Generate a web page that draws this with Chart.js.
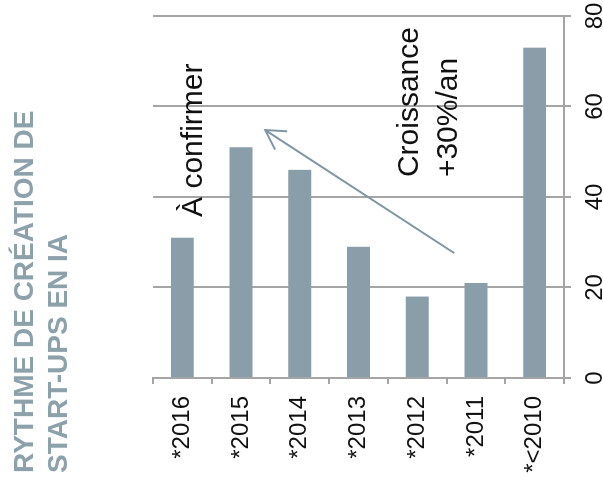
<!DOCTYPE html>
<html>
<head>
<meta charset="utf-8">
<script src="https://cdn.jsdelivr.net/npm/chart.js@4"></script>
<style>
  html, body { margin: 0; padding: 0; background: #fff; overflow: hidden; }
  body { width: 603px; height: 496px; position: relative; }
  /* the chart is laid out as horizontal bars, then turned a quarter turn */
  #wrap {
    position: absolute; left: 0; top: 0;
    width: 496px; height: 603px;
    transform-origin: 0 0;
    transform: translate(0, 496px) rotate(-90deg);
  }
</style>
</head>
<body>
<div id="wrap"><canvas id="rythmeChart" width="496" height="603"></canvas></div>
<script>
const years = ['*2016', '*2015', '*2014', '*2013', '*2012', '*2011', '*<2010'];
const startups = [31, 51, 46, 29, 18, 21, 73];
const valueTicks = [0, 20, 40, 60, 80];
const titleLines = ['RYTHME DE CRÉATION DE', 'START-UPS EN IA'];

const FONT = '"Liberation Sans", Arial, sans-serif';
const BAR = '#899ea8';
const GRID = '#a5a5a5';

// title, trend arrow and the two notes
const notesPlugin = {
    id: 'notes',
    afterDraw(chart) {
        const ctx = chart.ctx;
        const x = chart.scales.x;
        const y = chart.scales.y;
        ctx.save();

        ctx.fillStyle = '#8da1ab';
        ctx.font = 'bold 28px ' + FONT;
        ctx.textBaseline = 'alphabetic';
        ctx.textAlign = 'left';
        ctx.fillText(titleLines[0], 23, 33);
        ctx.fillText(titleLines[1], 23, 67);

        // arrow pointing back toward the recent years
        const x0 = x.getPixelForValue(27.6), y0 = y.getPixelForValue(4.63);
        const x1 = x.getPixelForValue(54.8), y1 = y.getPixelForValue(1.41);
        ctx.strokeStyle = '#8198a3';
        ctx.lineWidth = 2;
        ctx.beginPath();
        ctx.moveTo(x0, y0);
        ctx.lineTo(x1, y1);
        const ang = Math.atan2(y0 - y1, x0 - x1);
        const wing = 22;
        ctx.moveTo(x1 + wing * Math.cos(ang + 0.52), y1 + wing * Math.sin(ang + 0.52));
        ctx.lineTo(x1, y1);
        ctx.lineTo(x1 + wing * Math.cos(ang - 0.52), y1 + wing * Math.sin(ang - 0.52));
        ctx.stroke();

        ctx.fillStyle = '#111';
        ctx.font = '30px ' + FONT;
        ctx.fillText('À confirmer', x.getPixelForValue(35.6), y.getPixelForValue(0) + 20);
        ctx.fillText('Croissance', x.getPixelForValue(44.4), y.getPixelForValue(4) + 1);
        ctx.fillText('+30%/an', x.getPixelForValue(44.4), y.getPixelForValue(4) + 40);
        ctx.restore();
    }
};

new Chart(document.getElementById('rythmeChart'), {
    type: 'bar',
    data: {
        labels: years,
        datasets: [{
            data: startups,
            backgroundColor: BAR,
            borderWidth: 0,
            barPercentage: 0.39,
            categoryPercentage: 1
        }]
    },
    options: {
        indexAxis: 'y',
        responsive: false,
        animation: false,
        layout: { padding: { top: 153, right: 16, left: 0, bottom: 0 } },
        plugins: {
            legend: { display: false },
            tooltip: { enabled: false }
        },
        scales: {
            x: {
                position: 'bottom',
                min: 0,
                max: 80,
                afterBuildTicks: s => { s.ticks = valueTicks.map(v => ({ value: v })); },
                afterFit: s => {
                    s.height = 39;
                    s.paddingLeft = 0;
                    s.paddingRight = 16;
                },
                grid: { color: GRID, lineWidth: 2, tickLength: 7 },
                border: { color: GRID, width: 2 },
                ticks: {
                    color: '#111', font: { family: FONT, size: 24 }, padding: 10,
                    minRotation: 0, maxRotation: 0, autoSkip: false
                }
            },
            y: {
                afterFit: s => { s.width = 118; },
                grid: { drawOnChartArea: false, offset: true, color: GRID, lineWidth: 2, tickLength: 6 },
                border: { color: GRID, width: 2 },
                ticks: { color: '#111', font: { family: FONT, size: 24 }, padding: 12 }
            }
        }
    },
    plugins: [notesPlugin]
});
</script>
</body>
</html>
